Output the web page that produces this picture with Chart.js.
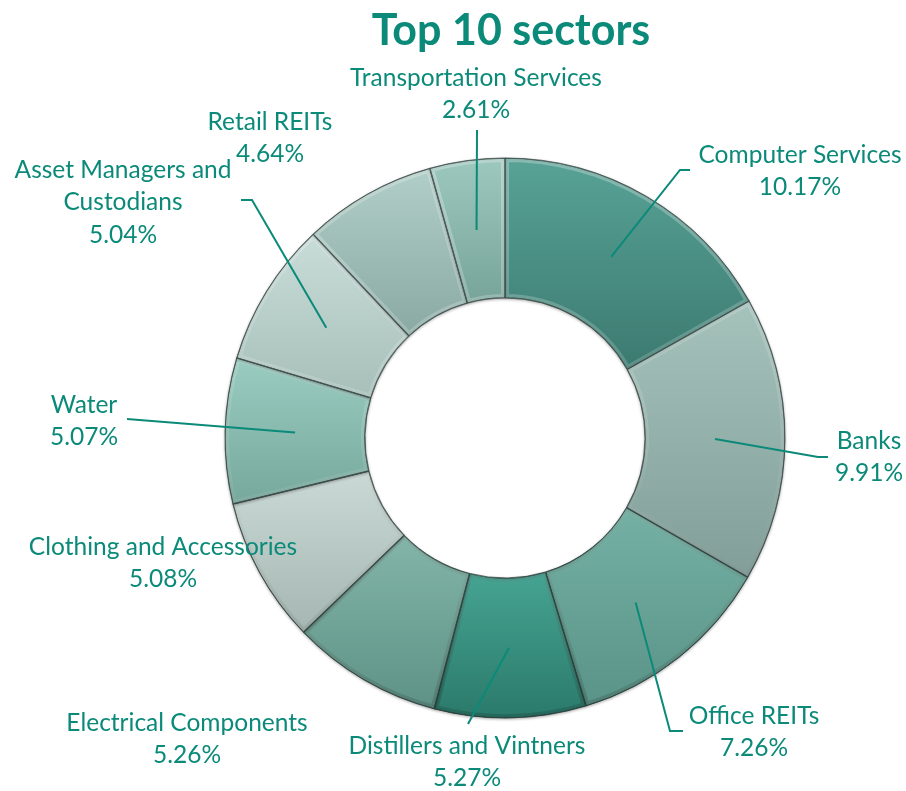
<!DOCTYPE html>
<html>
<head>
<meta charset="utf-8">
<script src="https://cdn.jsdelivr.net/npm/chart.js@4/dist/chart.umd.min.js"></script>
<style>
  html, body { margin: 0; padding: 0; background: #fff; }
  #wrap { width: 906px; height: 791px; position: relative; }
</style>
</head>
<body>
<div id="wrap"><canvas id="sectorChart"></canvas></div>
<script>
// data (clockwise from 12 o'clock)
const categories = [
  "Computer Services", "Banks", "Office REITs", "Distillers and Vintners",
  "Electrical Components", "Clothing and Accessories", "Water",
  "Asset Managers and Custodians", "Retail REITs", "Transportation Services"
]
const weights = [10.17, 9.91, 7.26, 5.27, 5.26, 5.08, 5.07, 5.04, 4.64, 2.61]
const chartTitle = "Top 10 sectors"

// styling / layout
const sliceTop = ["#58a296", "#a5c2bb", "#74b1a4", "#46a492", "#83b5a9", "#cad9d5", "#9bccc1", "#c9ddd8", "#b1cfc8", "#9dc8be"]
const sliceBottom = ["#3c7a70", "#829e98", "#5a9387", "#2b7a6b", "#5f9286", "#a5b7b2", "#76a89c", "#a7bfb9", "#89a9a2", "#77a499"]
const labelLines = [
  null, null, null, null, null, null, null,
  ["Asset Managers and", "Custodians"], null, null
]
const labelPos = [[800, 155], [869, 441], [754, 716], [467, 746], [187, 723], [163, 547], [84, 405], [123, 170], [270, 122], [476, 78]]
const leaders = [
  [[680, 170], [690, 170]],
  [[818, 457], [828, 457]],
  [[670, 731], [683, 731]],
  [[468, 724]],
  null,
  null,
  [[127, 419]],
  [[252, 200], [241, 200]],
  null,
  [[477, 130]]
]
const teal = "#0b8a79"
const RADIUS = 280
const FONT = "Lato, 'Noto Sans', sans-serif"

const total = weights.reduce((a, b) => a + b, 0)

function sliceFill(c) {
  const i = c.dataIndex
  const area = c.chart.chartArea
  if (!area || i === undefined) return sliceTop[i] || "#999"
  const cx = (area.left + area.right) / 2
  const cy = (area.top + area.bottom) / 2
  let before = 0
  for (let k = 0; k < i; k++) before += weights[k]
  const a0 = -Math.PI / 2 + (before / total) * Math.PI * 2
  const a1 = a0 + (weights[i] / total) * Math.PI * 2
  let minY = Infinity, maxY = -Infinity
  for (let s = 0; s <= 20; s++) {
    const a = a0 + (a1 - a0) * s / 20
    for (const r of [RADIUS / 2, RADIUS]) {
      const y = cy + r * Math.sin(a)
      minY = Math.min(minY, y)
      maxY = Math.max(maxY, y)
    }
  }
  const g = c.chart.ctx.createLinearGradient(0, minY, 0, maxY)
  g.addColorStop(0, sliceTop[i])
  g.addColorStop(1, sliceBottom[i])
  return g
}

const decor = {
  id: "decor",
  beforeDatasetsDraw(chart) {
    const ctx = chart.ctx
    ctx.save()
    ctx.shadowColor = "rgba(0,0,0,0.3)"
    ctx.shadowBlur = 3
    ctx.shadowOffsetY = 1
  },
  afterDatasetsDraw(chart) {
    const ctx = chart.ctx
    ctx.restore()
    // bevel on each slice
    chart.getDatasetMeta(0).data.forEach((arc) => {
      ctx.save()
      ctx.beginPath()
      ctx.arc(arc.x, arc.y, arc.outerRadius, arc.startAngle, arc.endAngle)
      ctx.arc(arc.x, arc.y, arc.innerRadius, arc.endAngle, arc.startAngle, true)
      ctx.closePath()
      ctx.clip()
      const g = ctx.createLinearGradient(0, arc.y - arc.outerRadius, 0, arc.y + arc.outerRadius)
      g.addColorStop(0, "rgba(255,255,255,0.3)")
      g.addColorStop(0.5, "rgba(255,255,255,0.12)")
      g.addColorStop(1, "rgba(0,0,0,0.15)")
      ctx.strokeStyle = g
      ctx.lineWidth = 8
      ctx.stroke()
      ctx.lineWidth = 1.4
      ctx.strokeStyle = "rgba(45,62,58,0.75)"
      ctx.stroke()
      ctx.restore()
    })
  },
  afterDraw(chart) {
    const ctx = chart.ctx
    const arcs = chart.getDatasetMeta(0).data
    ctx.save()
    // leader lines
    ctx.strokeStyle = teal
    ctx.lineWidth = 2
    leaders.forEach((pts, i) => {
      if (!pts) return
      const arc = arcs[i]
      const mid = (arc.startAngle + arc.endAngle) / 2
      const r = (arc.innerRadius + arc.outerRadius) / 2
      ctx.beginPath()
      ctx.moveTo(arc.x + r * Math.cos(mid), arc.y + r * Math.sin(mid))
      pts.forEach(([x, y]) => ctx.lineTo(x, y))
      ctx.stroke()
    })
    // title
    ctx.fillStyle = teal
    ctx.textAlign = "center"
    ctx.textBaseline = "middle"
    ctx.font = "bold 43px " + FONT
    ctx.fillText(chartTitle, 511, 31)
    // labels
    ctx.font = "24.5px " + FONT
    categories.forEach((name, i) => {
      const lines = (labelLines[i] || [name]).concat([weights[i].toFixed(2) + "%"])
      const [x, y] = labelPos[i]
      lines.forEach((t, k) => ctx.fillText(t, x, y + k * 32.5))
    })
    ctx.restore()
  }
}

new Chart(document.getElementById("sectorChart"), {
  type: "doughnut",
  data: {
    labels: categories,
    datasets: [
      {
        data: weights,
        backgroundColor: sliceFill,
        borderColor: "rgba(45,62,58,0.75)",
        borderWidth: 1,
        radius: RADIUS,
        cutout: "50%"
      }
    ]
  },
  options: {
    responsive: true,
    maintainAspectRatio: false,
    animation: false,
    layout: { padding: { left: 104, right: 0, top: 85, bottom: 0 } },
    plugins: {
      legend: { display: false },
      title: { display: false },
      tooltip: { enabled: false }
    }
  },
  plugins: [decor]
})
</script>
</body>
</html>
